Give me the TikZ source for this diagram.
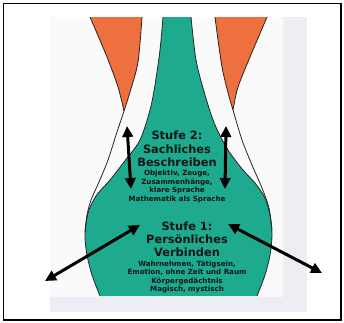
\documentclass[tikz,border=0pt]{standalone}
\usepackage{fontspec}
\setmainfont{DejaVu Sans}
\usetikzlibrary{arrows.meta}
\definecolor{tealc}{RGB}{30,170,142}
\definecolor{orangec}{RGB}{238,112,62}
\definecolor{pagec}{RGB}{250,250,250}
\definecolor{stripc}{RGB}{236,238,243}
\definecolor{inkc}{RGB}{16,22,20}
\begin{document}
\begin{tikzpicture}[x=1pt,y=-1pt,
  big/.style={font=\fontsize{11.4}{12}\selectfont\bfseries, text=inkc, anchor=base, inner sep=0pt},
  small/.style={font=\fontsize{7.1}{8}\selectfont\bfseries, text=inkc, anchor=base, inner sep=0pt},
  dbl/.style={line width=3pt, {Triangle[length=11pt,width=10.5pt]}-{Triangle[length=11pt,width=10.5pt]}},
  edgeline/.style={draw=black!85, line width=0.8pt}]
\useasboundingbox (0,0) rectangle (344,322);
\fill[white] (0,0) rectangle (344,322);
% page
\fill[pagec] (50,17) rectangle (307,312);
\fill[stripc] (283,17) rectangle (307,312);
\fill[stripc] (50,297) rectangle (307,312);
% orange left
\fill[orangec] plot[smooth] coordinates {(90,17) (107,57) (118,87) (124,111)}
  -- plot[smooth] coordinates {(124,111) (130,92) (138,62) (142,17)} -- cycle;
% orange right
\fill[orangec] plot[smooth] coordinates {(215,17) (222,67) (230,100) (233,110)}
  -- plot[smooth] coordinates {(233,110) (238,87) (250,57) (267,17)} -- cycle;
% teal body
\fill[tealc] plot[smooth] coordinates {(163,17) (160,50) (155,85) (150,110) (140,140) (124,162) (110,180) (96,196) (88,213) (85,235) (87,255) (92,275) (100,296)}
  -- plot[smooth] coordinates {(257,296) (265,275) (270,255) (272,235) (270,215) (265,198) (255,183) (243,170) (228,150) (215,125) (205,95) (196,60) (191,17)} -- cycle;
% outlines
\draw[edgeline] plot[smooth] coordinates {(163,17) (160,50) (155,85) (150,110) (140,140) (124,162) (110,180) (96,196) (88,213) (85,235) (87,255) (92,275) (100,296)};
\draw[edgeline] plot[smooth] coordinates {(257,296) (265,275) (270,255) (272,235) (270,215) (265,198) (255,183) (243,170) (228,150) (215,125) (205,95) (196,60) (191,17)};
\draw[edgeline] plot[smooth] coordinates {(90,17) (107,57) (118,87) (124,111)};
\draw[edgeline] plot[smooth] coordinates {(142,17) (138,62) (130,92) (124,111) (116,135) (108,160) (99,182) (91,200) (87,215) (85,232)};
\draw[edgeline] plot[smooth] coordinates {(267,17) (250,57) (238,87) (233,110)};
\draw[edgeline] plot[smooth] coordinates {(215,17) (222,67) (230,100) (233,110) (242,140) (252,165) (262,188) (269,208) (272,230)};
% texts stage 2
\node[big] (s2a) at (177,139.3) {Stufe 2:};
\node[big] (s2b) at (177,153.3) {Sachliches};
\node[big] (s2c) at (177,166.7) {Beschreiben};
\node[small] (s2d) at (177,175.5) {Objektiv, Zeuge,};
\node[small] (s2e) at (177,184.1) {Zusammenhänge,};
\node[small] (s2f) at (177,192.7) {klare Sprache};
\node[small] (s2g) at (177,201.2) {Mathematik als Sprache};
% texts stage 1
\node[big] (s1a) at (187,230.7) {Stufe 1:};
\node[big] (s1b) at (187,243.3) {Persönliches};
\node[big] (s1c) at (187,256) {Verbinden};
\node[small] (s1d) at (187,266) {Wahrnehmen, Tätigsein,};
\node[small] (s1e) at (187,274.6) {Emotion, ohne Zeit und Raum};
\node[small] (s1f) at (187,283.1) {Körpergedächtnis};
\node[small] (s1g) at (187,291.6) {Magisch, mystisch};
% arrows
\coordinate (a1t) at (127,126); \coordinate (a1b) at (131,189);
\coordinate (a2t) at (226,126); \coordinate (a2b) at (225,189);
\coordinate (a3t) at (140,225); \coordinate (a3b) at (45,281);
\coordinate (a4t) at (228,224); \coordinate (a4b) at (322,273);
\draw[dbl] (a1t) -- (a1b);
\draw[dbl] (a2t) -- (a2b);
\draw[dbl] (a3t) -- (a3b);
\draw[dbl] (a4t) -- (a4b);
% frame
\draw[line width=1.8pt] (3.5,3.5) rectangle (341,320);
\end{tikzpicture}
\end{document}
